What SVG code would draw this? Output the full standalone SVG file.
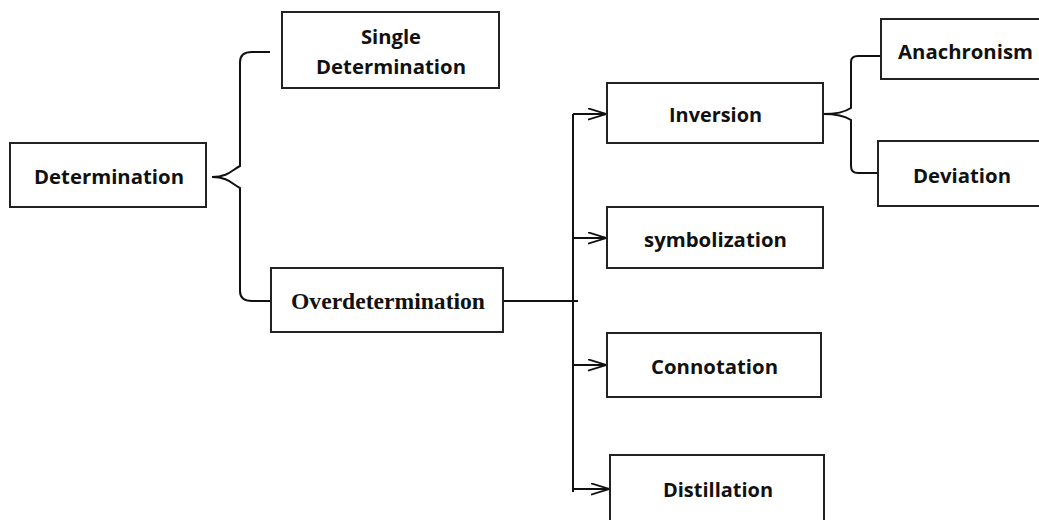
<svg xmlns="http://www.w3.org/2000/svg" width="1039" height="520" viewBox="0 0 1039 520">
<defs>
<marker id="arr" viewBox="0 0 19 13" refX="18" refY="6.5" markerWidth="19" markerHeight="13" markerUnits="userSpaceOnUse" orient="auto">
<path d="M0,0.8 L18,6.5 L0,12.2" fill="none" stroke="#111" stroke-width="1.8"/>
</marker>
</defs>
<style>
.box{fill:#fff;stroke:#222;stroke-width:2}
.t{font-family:"Open Sans","Liberation Sans",sans-serif;font-weight:bold;font-size:20px;fill:#111;text-anchor:middle}
.s{font-family:"Liberation Serif",serif;font-weight:bold;font-size:24px;fill:#111;text-anchor:middle}
.ln{fill:none;stroke:#111;stroke-width:2}
</style>
<rect width="1039" height="520" fill="#fff"/>
<g id="connectors">
<path class="ln" d="M212,177 C228,177 232,170 240,166 L240,62 Q240,52 252,52 L270,52"/>
<path class="ln" d="M212,177 C228,177 232,184 240,188 L240,291 Q240,301 252,301 L270,301"/>
<path class="ln" d="M503,301 L578,301"/>
<path class="ln" d="M573,114 L573,492"/>
<path class="ln" d="M573,114 L606,114" marker-end="url(#arr)"/>
<path class="ln" d="M573,238 L606,238" marker-end="url(#arr)"/>
<path class="ln" d="M573,365 L606,365" marker-end="url(#arr)"/>
<path class="ln" d="M573,489 L609,489" marker-end="url(#arr)"/>
<path class="ln" d="M823,114 C836,114 845,112 851,108 L851,62 Q851,56 858,56 L881,56"/>
<path class="ln" d="M823,114 C836,114 845,116 851,120 L851,166 Q851,173 858,173 L878,173"/>
</g>
<g id="n-determination"><rect class="box" x="10" y="143" width="196" height="64"/><text class="t" x="109" y="184" textLength="150" lengthAdjust="spacingAndGlyphs">Determination</text></g>
<g id="n-single"><rect class="box" x="282" y="12" width="217" height="76"/><text class="t" x="391" y="44" textLength="60" lengthAdjust="spacingAndGlyphs">Single</text><text class="t" x="391" y="74" textLength="150" lengthAdjust="spacingAndGlyphs">Determination</text></g>
<g id="n-over"><rect class="box" x="271" y="268" width="232" height="64"/><text class="s" x="388" y="309" textLength="194" lengthAdjust="spacingAndGlyphs">Overdetermination</text></g>
<g id="n-inversion"><rect class="box" x="607" y="83" width="216" height="60"/><text class="t" x="715.5" y="122" textLength="93" lengthAdjust="spacingAndGlyphs">Inversion</text></g>
<g id="n-symbolization"><rect class="box" x="607" y="207" width="216" height="61"/><text class="t" x="715.5" y="247" textLength="143" lengthAdjust="spacingAndGlyphs">symbolization</text></g>
<g id="n-connotation"><rect class="box" x="607" y="333" width="214" height="64"/><text class="t" x="714.5" y="374" textLength="127" lengthAdjust="spacingAndGlyphs">Connotation</text></g>
<g id="n-distillation"><rect class="box" x="610" y="455" width="214" height="66"/><text class="t" x="718" y="497" textLength="110" lengthAdjust="spacingAndGlyphs">Distillation</text></g>
<g id="n-anachronism"><rect class="box" x="881" y="19" width="170" height="60"/><text class="t" x="965.5" y="59" textLength="135" lengthAdjust="spacingAndGlyphs">Anachronism</text></g>
<g id="n-deviation"><rect class="box" x="878" y="141" width="175" height="65"/><text class="t" x="962" y="183" textLength="98" lengthAdjust="spacingAndGlyphs">Deviation</text></g>
</svg>
